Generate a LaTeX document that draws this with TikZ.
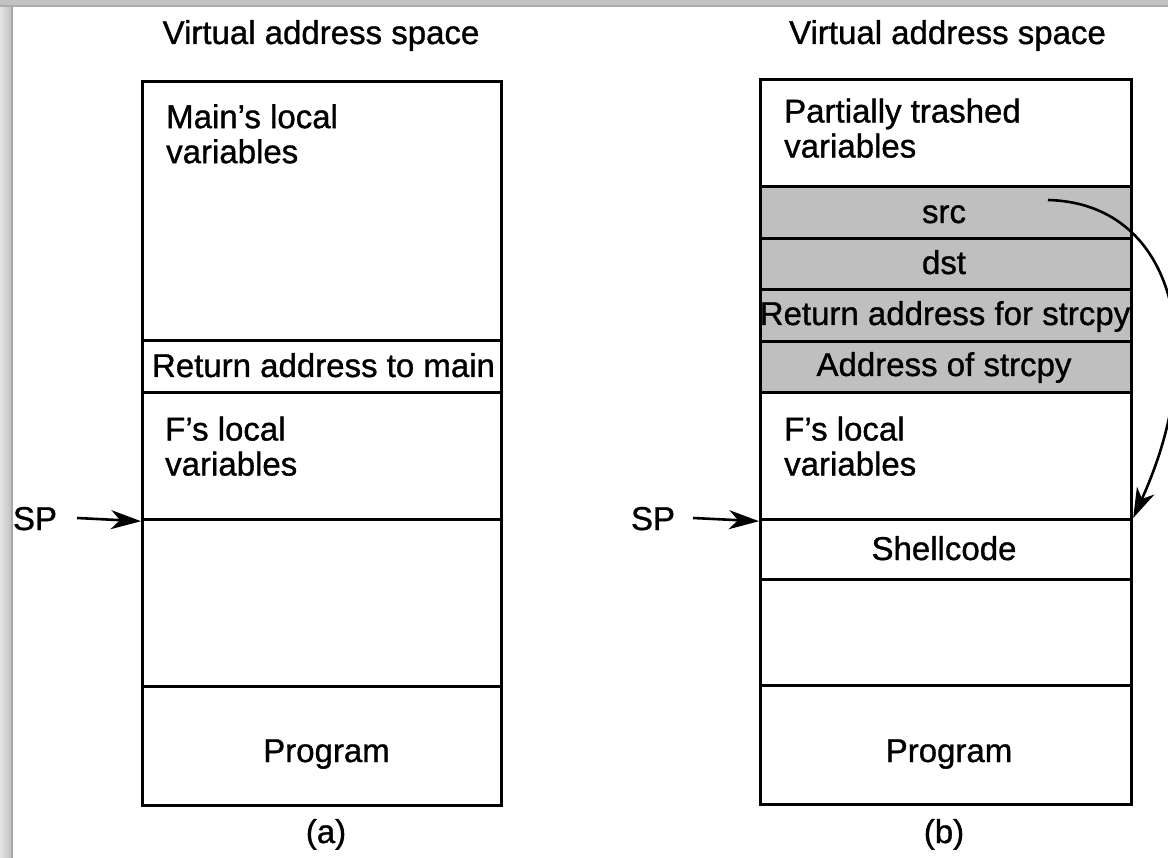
\documentclass[tikz,border=0pt]{standalone}
\usepackage{fontspec}
\setmainfont{Liberation Sans}[UprightFeatures={FakeBold=1}]
\usetikzlibrary{arrows.meta}

\tikzset{
  cell/.style={draw, line width=3.2pt, anchor=north west, inner sep=0pt, minimum width=#1},
  acell/.style={cell=359pt},
  bcell/.style={cell=371pt},
  shaded/.style={fill=black!25},
  txt/.style={inner sep=0pt, anchor=base},
  multi/.style={inner sep=0pt, anchor=north west, align=left},
  arr/.style={line width=2.6pt, -{Stealth[length=30pt, width=19pt, inset=9pt]}},
}

\begin{document}
\begin{tikzpicture}[x=1pt, y=-1pt, font=\fontsize{33}{35}\selectfont]
  \useasboundingbox (0,0) rectangle (1168,858);
  \fill[white] (0,0) rectangle (1168,858);

  % page frame edges
  \shade[left color=black!10, right color=black!24] (0,0) rectangle (11,858);
  \fill[black!34] (10.5,6) rectangle (13,858);
  \fill[black!24] (0,0) rectangle (1168,5);
  \fill[black!32] (0,5) rectangle (1168,7);

  % ---------- (a) stack before the overflow ----------
  \node[txt] (atitle) at (321,44) {Virtual address space};
  \node[acell, minimum height=259pt] (amain) at (141,80) {};
  \node[acell, minimum height=52pt]  (aret)  at (141,339) {};
  \node[acell, minimum height=127pt] (aloc)  at (141,391) {};
  \node[acell, minimum height=167pt] (afree) at (141,518) {};
  \node[acell, minimum height=119pt] (aprog) at (141,685) {};

  \node[multi] (amaintxt) at (166,104) {Main’s local\\variables};
  \node[txt] (arettxt) at (323.5,377) {Return address to main};
  \node[multi] (aloctxt) at (165,416.4) {F’s local\\variables};
  \node[txt] (aprogtxt) at (326.5,762) {Program};
  \node[txt] (acap) at (326,843) {(a)};

  \node[txt] (aSP) at (35,530) {SP};
  \coordinate (aSPtail) at (77,518);
  \draw[arr] (aSPtail) -- (aloc.south west);

  % ---------- (b) stack after the overflow ----------
  \node[txt] (btitle) at (947.5,44) {Virtual address space};
  \node[bcell, minimum height=107pt]         (bpart)  at (759,78) {};
  \node[bcell, shaded, minimum height=52pt]  (bsrc)   at (759,185) {};
  \node[bcell, shaded, minimum height=51pt]  (bdst)   at (759,237) {};
  \node[bcell, shaded, minimum height=52pt]  (bra)    at (759,288) {};
  \node[bcell, shaded, minimum height=51pt]  (baddr)  at (759,340) {};
  \node[bcell, minimum height=127pt]         (bloc)   at (759,391) {};
  \node[bcell, minimum height=60pt]          (bshell) at (759,518) {};
  \node[bcell, minimum height=106pt]         (bfree)  at (759,578) {};
  \node[bcell, minimum height=119pt]         (bprog)  at (759,684) {};

  \node[multi] (bparttxt) at (784,98.4) {Partially trashed\\variables};
  \node[txt] (bsrctxt)   at (944,223) {src};
  \node[txt] (bdsttxt)   at (944,274) {dst};
  \node[txt] (bratxt)    at (945,325) {Return address for strcpy};
  \node[txt] (baddrtxt)  at (944,376) {Address of strcpy};
  \node[multi] (bloctxt) at (784,416.4) {F’s local\\variables};
  \node[txt] (bshelltxt) at (944,560) {Shellcode};
  \node[txt] (bprogtxt)  at (949,762) {Program};
  \node[txt] (bcap) at (944,843) {(b)};

  \node[txt] (bSP) at (653,530) {SP};
  \coordinate (bSPtail) at (693,518);
  \draw[arr] (bSPtail) -- (bloc.south west);

  % src now points at the shellcode
  \coordinate (srcptr) at (1048,200);
  \draw[arr] (srcptr) .. controls (1172,203) and (1212,345) .. (bshell.north east);
\end{tikzpicture}
\end{document}
